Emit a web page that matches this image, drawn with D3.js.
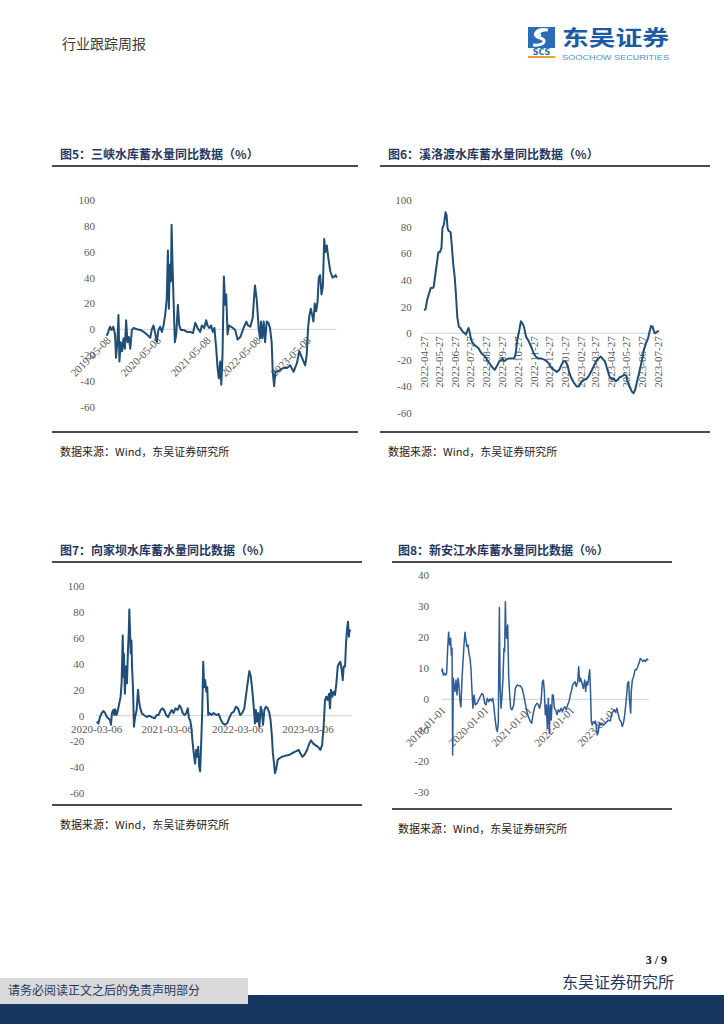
<!DOCTYPE html>
<html><head><meta charset="utf-8">
<script src="https://cdn.jsdelivr.net/npm/d3@7"></script>
<style>
html,body{margin:0;padding:0;background:#fff;}
svg{display:block;}
</style></head>
<body>
<svg id="page" width="724" height="1024"></svg>
<script>
// ---------- DATA ----------
const yTicks100 = [-60, -40, -20, 0, 20, 40, 60, 80, 100];
const yTicks40 = [-30, -20, -10, 0, 10, 20, 30, 40];

// 图5 三峡
const sanxiaTicks = ["2019-05-08", "2020-05-08", "2021-05-08", "2022-05-08", "2023-05-08"];
const sanxiaDates = ["2019-05-08","2019-05-20","2019-06-01","2019-06-13","2019-06-25","2019-07-08","2019-07-15","2019-07-25","2019-08-02","2019-08-09",
"2019-08-19","2019-08-29","2019-09-08","2019-09-18","2019-09-27","2019-10-07","2019-10-17","2019-10-27","2019-11-08","2019-11-20",
"2019-12-15","2020-01-08","2020-02-02","2020-02-26","2020-03-21","2020-04-02","2020-04-14","2020-04-26","2020-05-08","2020-05-20",
"2020-06-01","2020-06-14","2020-06-26","2020-07-08","2020-07-20","2020-07-28","2020-08-04","2020-08-11","2020-08-19","2020-08-24",
"2020-08-31","2020-09-07","2020-09-17","2020-09-27","2020-10-09","2020-10-19","2020-10-31","2020-11-20","2020-12-14","2021-01-08",
"2021-01-27","2021-02-13","2021-03-02","2021-03-21","2021-04-02","2021-04-19","2021-05-04","2021-05-13","2021-05-28","2021-06-09",
"2021-06-21","2021-07-03","2021-07-16","2021-07-26","2021-08-04","2021-08-14","2021-08-22","2021-08-31","2021-09-10","2021-09-20",
"2021-09-27","2021-10-07","2021-10-17","2021-10-31","2021-11-15","2021-12-02","2021-12-19","2022-01-08","2022-02-01","2022-02-21",
"2022-03-05","2022-03-22","2022-04-08","2022-04-25","2022-05-08","2022-05-22","2022-06-01","2022-06-08","2022-06-18","2022-06-28",
"2022-07-08","2022-07-20","2022-08-01","2022-08-13","2022-08-25","2022-09-02","2022-09-12","2022-09-21","2022-10-06","2022-10-26",
"2022-11-19","2022-12-14","2023-01-08","2023-02-01","2023-02-26","2023-03-15","2023-04-03","2023-04-27","2023-05-08","2023-05-18",
"2023-05-28","2023-06-07","2023-06-17","2023-06-26","2023-07-06","2023-07-16","2023-07-26","2023-08-04","2023-08-14","2023-08-24",
"2023-09-03","2023-09-13","2023-09-22","2023-10-02","2023-10-12","2023-10-27","2023-11-13","2023-11-27","2023-12-05","2023-12-14"];
const sanxiaValues = [-5,-2,2,-0.5,2,-4,-22,-10,11,-25,
-10,-17,-7,-15,7,-10,-6,-15,-0.5,1,
0,-0.5,-2,-4,-6.5,0,3,-3,-10,-0.5,
2,-2,3,11,24,61,16,50,37,81,
50,24,-10,-4,19,3,-0.5,-0.5,-2,-2,
-3,5,1,-2,3,1,7,3,1,3,
-2,1,-15,-30,-38,-25,-43,-20,41,19,
27,-4,3,2,1,-0.5,-8,-6,1,6,
3,2,8.5,34,23,1,-7,6,-7,6,
-10,6,5,1,-10,-33,-44,-33,-33,-31.5,
-30,-30,-28,-33,-26,-17,-22,-28,-20,1,
11,16,11,6,20,14,21,40,42,27,
33,70,60,65,56,45,40,41,42,40];

// 图6 溪洛渡
const xiluoduTicks = ["2022-04-27","2022-05-27","2022-06-27","2022-07-27","2022-08-27","2022-09-27","2022-10-27","2022-11-27",
"2022-12-27","2023-01-27","2023-02-27","2023-03-27","2023-04-27","2023-05-27","2023-06-27","2023-07-27"];
const xiluoduDates = ["2022-04-27","2022-04-30","2022-05-03","2022-05-07","2022-05-10","2022-05-14","2022-05-16","2022-05-19","2022-05-23","2022-05-25",
"2022-05-28","2022-05-31","2022-06-02","2022-06-05","2022-06-08","2022-06-10","2022-06-12","2022-06-14","2022-06-18","2022-06-20",
"2022-06-23","2022-06-26","2022-06-29","2022-07-01","2022-07-04","2022-07-07","2022-07-09","2022-07-12","2022-07-16","2022-07-18",
"2022-07-21","2022-07-23","2022-07-25","2022-07-28","2022-07-31","2022-08-04","2022-08-11","2022-08-17","2022-08-24","2022-08-30",
"2022-09-06","2022-09-12","2022-09-17","2022-09-21","2022-09-25","2022-09-27","2022-09-30","2022-10-04","2022-10-08","2022-10-15",
"2022-10-20","2022-10-23","2022-10-26","2022-10-30","2022-11-02","2022-11-05","2022-11-08","2022-11-12","2022-11-16","2022-11-19",
"2022-11-23","2022-11-27","2022-12-01","2022-12-06","2022-12-12","2022-12-19","2022-12-25","2022-12-30","2023-01-04","2023-01-11",
"2023-01-16","2023-01-20","2023-01-24","2023-01-28","2023-02-01","2023-02-04","2023-02-09","2023-02-14","2023-02-19","2023-02-23",
"2023-02-27","2023-03-04","2023-03-09","2023-03-14","2023-03-18","2023-03-24","2023-03-29","2023-04-02","2023-04-07","2023-04-11",
"2023-04-15","2023-04-20","2023-04-24","2023-04-28","2023-05-02","2023-05-06","2023-05-10","2023-05-14","2023-05-18","2023-05-23",
"2023-05-27","2023-05-29","2023-06-02","2023-06-07","2023-06-10","2023-06-13","2023-06-16","2023-06-19","2023-06-23","2023-06-27",
"2023-06-30","2023-07-04","2023-07-08","2023-07-11","2023-07-14","2023-07-17","2023-07-20","2023-07-22","2023-07-25","2023-07-29"];
const xiluoduValues = [17.5,18,25,30,34,34,35,44,55,61,
61,64,79,82,91,89,79,77,76,67,
52,42,25,12,5,4,2.5,1,0,-1,
2.5,4,1,-5,-7.5,-9,-11,-15,-17.5,-21,
-25,-27.5,-24,-21,-20,-19,-21,-20,-19,-19,
-19,-15,-5,2.5,9,7.5,5,-2.5,-5,-7.5,
-11,-15,-17.5,-19,-19,-20,-22,-25,-27,-29,
-27.5,-24,-21,-21,-24,-29,-34,-37.5,-40,-40,
-37.5,-35,-34.5,-32.5,-29.5,-25,-21,-19,-17.5,-19.5,
-21,-27.5,-32.5,-34.5,-34,-36,-35,-33,-32.5,-31,
-32,-36,-40,-44,-45,-42.5,-37.5,-32.5,-26,-19,
-12.5,-7.5,-4,1,5.5,5,1,0,1,2];

// 图7 向家坝
const xiangjiabaTicks = ["2020-03-06", "2021-03-06", "2022-03-06", "2023-03-06"];
const xiangjiabaDates = ["2020-03-06","2020-03-15","2020-03-23","2020-04-01","2020-04-09","2020-04-18","2020-04-27","2020-05-05","2020-05-14","2020-05-19",
"2020-05-24","2020-05-31","2020-06-05","2020-06-10","2020-06-17","2020-06-24","2020-07-01","2020-07-08","2020-07-13","2020-07-19",
"2020-07-22","2020-07-25","2020-07-30","2020-08-05","2020-08-10","2020-08-15","2020-08-19","2020-08-22","2020-08-26","2020-08-29",
"2020-09-02","2020-09-05","2020-09-10","2020-09-15","2020-09-21","2020-09-29","2020-10-06","2020-10-11","2020-10-16","2020-10-25",
"2020-11-06","2020-11-20","2020-12-04","2020-12-18","2021-01-01","2021-01-11","2021-01-20","2021-02-01","2021-02-10","2021-02-18",
"2021-03-01","2021-03-11","2021-03-21","2021-03-30","2021-04-08","2021-04-18","2021-04-29","2021-05-09","2021-05-18","2021-05-26",
"2021-06-04","2021-06-13","2021-06-21","2021-06-27","2021-07-03","2021-07-09","2021-07-15","2021-07-22","2021-07-29","2021-08-03",
"2021-08-09","2021-08-14","2021-08-19","2021-08-24","2021-08-30","2021-09-04","2021-09-09","2021-09-14","2021-09-19","2021-09-25",
"2021-09-30","2021-10-05","2021-10-12","2021-10-22","2021-11-02","2021-11-16","2021-11-28","2021-12-10","2021-12-20","2022-01-01",
"2022-01-13","2022-01-24","2022-02-03","2022-02-14","2022-02-26","2022-03-08","2022-03-20","2022-03-30","2022-04-10","2022-04-18",
"2022-04-27","2022-05-06","2022-05-14","2022-05-23","2022-05-30","2022-06-04","2022-06-09","2022-06-14","2022-06-20","2022-06-27",
"2022-07-04","2022-07-09","2022-07-16","2022-07-23","2022-07-31","2022-08-09","2022-08-18","2022-08-24","2022-08-31","2022-09-05",
"2022-09-11","2022-09-16","2022-09-23","2022-09-30","2022-10-08","2022-10-22","2022-11-08","2022-11-26","2022-12-13","2022-12-30",
"2023-01-17","2023-01-25","2023-02-05","2023-02-15","2023-03-01","2023-03-13","2023-03-22","2023-04-01","2023-04-13","2023-04-27",
"2023-05-09","2023-05-18","2023-05-26","2023-06-02","2023-06-09","2023-06-16","2023-06-23","2023-06-28","2023-07-03","2023-07-10",
"2023-07-17","2023-07-24","2023-07-31","2023-08-07","2023-08-14","2023-08-21","2023-08-28","2023-09-02","2023-09-07","2023-09-14",
"2023-09-19","2023-09-24","2023-09-29","2023-10-04","2023-10-07","2023-10-13"];
const xiangjiabaValues = [-4.6,-6,-1,2,3.6,2.3,-1,-2,-3.3,-7,
2,4.4,0.5,5,0.5,4.4,9.5,14.7,25,62,
30,48,17,38,25,51,63.6,82,63.6,48,
58,38,22,-8.5,-1,4.4,20,12,7,2,
0.5,-1,0,-1.3,-2,0.5,0.5,4.4,5.7,4.4,
0.5,-1,2,4.4,2,5.7,4.4,8,5.7,2,
0.5,2,5.7,-2,-3.3,-8.5,-19,-29,-37,-26.5,
-31.7,-24,-39.4,-43,-19,4.4,41.7,22,27.5,18.5,
22,0.5,2,0.5,2,0.5,1.3,-3.3,-6,-7,
-5.4,-1,2,3,7,5.7,0.5,2,5.7,14.7,
25,34.5,30,17,4.4,-6,4.4,-4.6,2,-8.5,
7,4.4,-7,4.4,7,5.7,2,-3.3,-16,-29,
-36.8,-44.5,-40.7,-34,-33,-31.7,-31,-30.4,-29,-27.8,
-26.5,-29,-31.7,-30.4,-26.5,-21.4,-19,-21.4,-22.7,-24,
-26.5,-22.7,-8.5,12,14.7,12,17,5.7,20,14.7,
18.5,16,25,38,40.4,41.7,35,27.5,38,38,
55.9,66,72.6,61,66,65];

// 图8 新安江
const xinanjiangTicks = ["2019-01-01", "2020-01-01", "2021-01-01", "2022-01-01", "2023-01-01"];
const xinanjiangDates = ["2019-01-01","2019-01-06","2019-01-15","2019-01-23","2019-02-04","2019-02-12","2019-02-21","2019-03-01","2019-03-10","2019-03-18",
"2019-03-24","2019-03-30","2019-04-04","2019-04-10","2019-04-16","2019-04-24","2019-05-03","2019-05-11","2019-05-20","2019-05-28",
"2019-06-06","2019-06-14","2019-06-23","2019-07-01","2019-07-10","2019-07-18","2019-07-27","2019-08-04","2019-08-13","2019-08-21",
"2019-08-30","2019-09-07","2019-09-16","2019-09-24","2019-10-03","2019-10-14","2019-10-28","2019-11-12","2019-11-26","2019-12-10",
"2019-12-21","2020-01-02","2020-01-13","2020-01-24","2020-02-05","2020-02-16","2020-02-28","2020-03-10","2020-03-19","2020-03-30",
"2020-04-10","2020-04-19","2020-04-27","2020-05-06","2020-05-12","2020-05-20","2020-05-29","2020-06-06","2020-06-14","2020-06-20",
"2020-06-26","2020-07-01","2020-07-07","2020-07-16","2020-07-24","2020-08-02","2020-08-10","2020-08-21","2020-09-05","2020-09-19",
"2020-10-03","2020-10-17","2020-10-31","2020-11-15","2020-11-29","2020-12-10","2020-12-21","2021-01-02","2021-01-13","2021-01-25",
"2021-02-05","2021-02-16","2021-02-28","2021-03-11","2021-03-23","2021-04-03","2021-04-14","2021-04-26","2021-05-07","2021-05-16",
"2021-05-24","2021-06-01","2021-06-10","2021-06-18","2021-06-27","2021-07-05","2021-07-14","2021-07-22","2021-07-31","2021-08-08",
"2021-08-17","2021-08-28","2021-09-09","2021-09-20","2021-10-01","2021-10-13","2021-10-24","2021-11-04","2021-11-15","2021-11-27",
"2021-12-08","2021-12-20","2021-12-31","2022-01-11","2022-01-20","2022-01-29","2022-02-09","2022-02-20","2022-03-04","2022-03-12",
"2022-03-21","2022-03-29","2022-04-09","2022-04-21","2022-05-02","2022-05-11","2022-05-19","2022-05-28","2022-06-05","2022-06-14",
"2022-06-22","2022-06-28","2022-07-06","2022-07-15","2022-07-24","2022-08-01","2022-08-09","2022-08-18","2022-08-27","2022-09-04",
"2022-09-15","2022-09-27","2022-10-11","2022-10-25","2022-11-08","2022-11-22","2022-12-07","2022-12-18","2022-12-30","2023-01-10",
"2023-01-21","2023-02-01","2023-02-13","2023-02-24","2023-03-08","2023-03-19","2023-03-31","2023-04-08","2023-04-17","2023-04-25",
"2023-05-03","2023-05-12","2023-05-20","2023-05-29","2023-06-03","2023-06-12","2023-06-23","2023-07-05","2023-07-16","2023-07-28",
"2023-08-08","2023-08-19","2023-08-31","2023-09-11","2023-09-22","2023-10-03","2023-10-14","2023-10-26"];
const xinanjiangValues = [8.9,9.8,7.8,8.4,7.8,8.4,16.5,21.6,17.5,19.7,
14.3,16.5,-18,6.8,4.6,2.5,6.2,1.4,6.8,4.6,
-0.8,-2.4,6.8,12,17.5,21.6,19,17,17.5,14.8,
13.2,10,2.5,-2.9,1.4,-1.8,-1.3,-0.2,0.9,1.9,
1.4,-1.3,-1.8,0.3,-0.8,0.1,-0.5,0.3,-1.8,-6.1,
-9.4,-10.4,-7.7,29.6,4.6,-2.9,1.4,6.8,16.5,15.4,
31.5,22.9,19.7,24,7.8,1.4,-2.9,-3.4,-1.8,3.5,
4.6,4.4,4.4,3.5,1.4,-0.8,-2.9,-5,-6.1,-7.2,
-7.7,-5,-2.9,-1.8,-1.3,-1.8,-2.9,-0.8,5.7,6.2,
2.5,-5,-1.8,-9.4,0.3,-11,-1.8,-6.7,1.4,1.4,
-2.9,-3.4,-5,-3.4,-4,-2.9,-4,-2.9,-2.4,-3.4,
-1.8,-0.8,1.4,3,4.6,5.2,5.7,4.1,5.7,10.5,
5.7,6.8,5.2,3.5,6.2,2.5,5.7,4.6,6.8,9.5,
1.4,-7.2,-8.3,-7.2,-7.7,-7,-8.8,-11.5,-10.4,-7.7,
-8.3,-7.7,-8.3,-7.7,-7.2,-6.7,-7,-4.5,-4,-3.4,
-4,-2.9,-5,-6.7,-7.2,-8.8,-7.2,-5,-1.8,1.4,
5.2,5.7,-0.8,-4.5,2.5,6.2,7.3,9.5,9.5,10.5,
11.6,13.2,12.7,12.2,12.7,12.2,13,12.7];

// ---------- DRAWING ----------
const svg = d3.select("#page");
const parse = d3.timeParse("%Y-%m-%d");
const SERIF = "'Liberation Serif','Times New Roman',serif";
const CJK = "'Noto Sans CJK SC','Noto Sans CJK JP',sans-serif";
const NAVY = "#1f3864";

// page header
svg.append("text").attr("x", 62).attr("y", 49).attr("font-family", CJK).attr("font-size", 14)
  .attr("fill", "#3a3a3a").text("行业跟踪周报");

// logo
const logo = svg.append("g");
logo.append("rect").attr("x", 528).attr("y", 27).attr("width", 27).attr("height", 21).attr("fill", "#2b6cb6");
logo.append("path").attr("d", "M548,30 C536,28 531,36 540,38 C548,40 544,46 533,45 M545,30 C538,31 537,35 541,36")
  .attr("fill", "none").attr("stroke", "#fff").attr("stroke-width", 3);
logo.append("text").attr("x", 541.5).attr("y", 55).attr("text-anchor", "middle").attr("font-family", "'DejaVu Sans',sans-serif")
  .attr("font-weight", "bold").attr("font-size", 8).attr("fill", "#2b6cb6").text("SCS");
logo.append("rect").attr("x", 528).attr("y", 56).attr("width", 27).attr("height", 2).attr("fill", "#f0a030");
logo.append("text").attr("x", 562).attr("y", 45).attr("font-family", CJK).attr("font-weight", "bold")
  .attr("font-size", 21).attr("fill", "#1c5aa6").attr("textLength", 107).attr("lengthAdjust", "spacingAndGlyphs").text("东吴证券");
logo.append("text").attr("x", 562).attr("y", 60).attr("font-family", "'Liberation Sans',Arial,sans-serif")
  .attr("font-size", 8).attr("fill", "#4a8fd4").attr("textLength", 107).attr("lengthAdjust", "spacingAndGlyphs").text("SOOCHOW SECURITIES");

function drawPanel(cfg) {
  const g = svg.append("g");
  // frame lines
  g.append("line").attr("x1", cfg.left).attr("x2", cfg.right).attr("y1", cfg.titleLineY).attr("y2", cfg.titleLineY)
    .attr("stroke", "#111").attr("stroke-width", 1.5);
  g.append("line").attr("x1", cfg.left).attr("x2", cfg.right).attr("y1", cfg.bottomLineY).attr("y2", cfg.bottomLineY)
    .attr("stroke", "#111").attr("stroke-width", 1.5);
  g.append("text").attr("x", cfg.titleX).attr("y", cfg.titleLineY - 7).attr("font-family", CJK).attr("font-weight", "bold")
    .attr("font-size", 12).attr("fill", NAVY).text(cfg.title);
  g.append("text").attr("x", cfg.titleX).attr("y", cfg.bottomLineY + 24).attr("font-family", CJK)
    .attr("font-size", 11).attr("fill", "#222").text("数据来源：Wind，东吴证券研究所");

  const x = d3.scaleTime().domain([parse(cfg.ticks[0]), parse(cfg.ticks[cfg.ticks.length - 1])]).range(cfg.xRange);
  const y = d3.scaleLinear().domain(cfg.yDomain).range(cfg.yRange);
  const zeroY = y(0);

  // y labels
  g.selectAll(".yl").data(cfg.yTicks).enter().append("text")
    .attr("x", cfg.yLabelX).attr("y", d => y(d)).attr("dy", "0.35em").attr("text-anchor", "end")
    .attr("font-family", SERIF).attr("font-size", 11).attr("fill", "#595959").text(d => d);

  // zero axis line
  g.append("line").attr("x1", cfg.axisX[0]).attr("x2", cfg.axisX[1]).attr("y1", zeroY).attr("y2", zeroY)
    .attr("stroke", "#d9d9d9").attr("stroke-width", 1.2);

  // x labels
  const xl = g.selectAll(".xl").data(cfg.ticks).enter().append("text")
    .attr("font-family", SERIF).attr("font-size", 11).attr("fill", "#595959").text(d => d);
  if (cfg.rot === -45) {
    xl.attr("text-anchor", "end").attr("dy", "0.35em")
      .attr("transform", d => `translate(${x(parse(d)) + 2},${zeroY + 9}) rotate(-45)`);
  } else if (cfg.rot === -90) {
    xl.attr("text-anchor", "end").attr("dy", "0.35em")
      .attr("transform", d => `translate(${x(parse(d))},${zeroY + 3}) rotate(-90)`);
  } else {
    xl.attr("text-anchor", "middle").attr("x", d => x(parse(d))).attr("y", zeroY + 17);
  }

  // series line
  const pts = cfg.dates.map((d, i) => ({ date: parse(d), v: cfg.values[i] }));
  const line = d3.line().x(d => x(d.date)).y(d => y(d.v));
  g.append("path").datum(pts).attr("d", line).attr("fill", "none")
    .attr("stroke", cfg.color).attr("stroke-width", cfg.lw).attr("stroke-linejoin", "round");
}

drawPanel({
  title: "图5：三峡水库蓄水量同比数据（%）", titleX: 60, left: 52, right: 358, titleLineY: 166, bottomLineY: 432,
  ticks: sanxiaTicks, dates: sanxiaDates, values: sanxiaValues, yTicks: yTicks100,
  xRange: [106.7, 306.7], yDomain: [-60, 100], yRange: [406.7, 200.3], yLabelX: 95, axisX: [107, 336.5],
  rot: -45, color: "#1f4e79", lw: 2
});
drawPanel({
  title: "图6：溪洛渡水库蓄水量同比数据（%）", titleX: 388, left: 380, right: 710, titleLineY: 166, bottomLineY: 432,
  ticks: xiluoduTicks, dates: xiluoduDates, values: xiluoduValues, yTicks: yTicks100,
  xRange: [424, 657.7], yDomain: [-60, 100], yRange: [413.1, 200.3], yLabelX: 411.7, axisX: [423, 660],
  rot: -90, color: "#1f4e79", lw: 2
});
drawPanel({
  title: "图7：向家坝水库蓄水量同比数据（%）", titleX: 60, left: 52, right: 362, titleLineY: 562, bottomLineY: 805,
  ticks: xiangjiabaTicks, dates: xiangjiabaDates, values: xiangjiabaValues, yTicks: yTicks100,
  xRange: [96.7, 308], yDomain: [-60, 100], yRange: [793.4, 586.2], yLabelX: 84.3, axisX: [96, 352],
  rot: 0, color: "#1f4e79", lw: 2
});
drawPanel({
  title: "图8：新安江水库蓄水量同比数据（%）", titleX: 398, left: 392, right: 672, titleLineY: 562, bottomLineY: 809,
  ticks: xinanjiangTicks, dates: xinanjiangDates, values: xinanjiangValues, yTicks: yTicks40,
  xRange: [441.7, 613.3], yDomain: [-30, 40], yRange: [792.3, 575.3], yLabelX: 429, axisX: [441.7, 649],
  rot: -45, color: "#2e5c99", lw: 1.5
});

// footer
svg.append("text").attr("x", 667).attr("y", 964).attr("text-anchor", "end").attr("font-family", SERIF)
  .attr("font-weight", "bold").attr("font-size", 12).attr("fill", "#111").text("3 / 9");
svg.append("rect").attr("x", 0).attr("y", 995).attr("width", 724).attr("height", 29).attr("fill", "#17365d");
svg.append("rect").attr("x", 0).attr("y", 978).attr("width", 248).attr("height", 26).attr("fill", "#d9d9d9");
svg.append("text").attr("x", 8).attr("y", 995).attr("font-family", CJK).attr("font-size", 12)
  .attr("fill", NAVY).text("请务必阅读正文之后的免责声明部分");
svg.append("text").attr("x", 562).attr("y", 988).attr("font-family", CJK).attr("font-size", 16)
  .attr("fill", NAVY).text("东吴证券研究所");
</script>
</body></html>
